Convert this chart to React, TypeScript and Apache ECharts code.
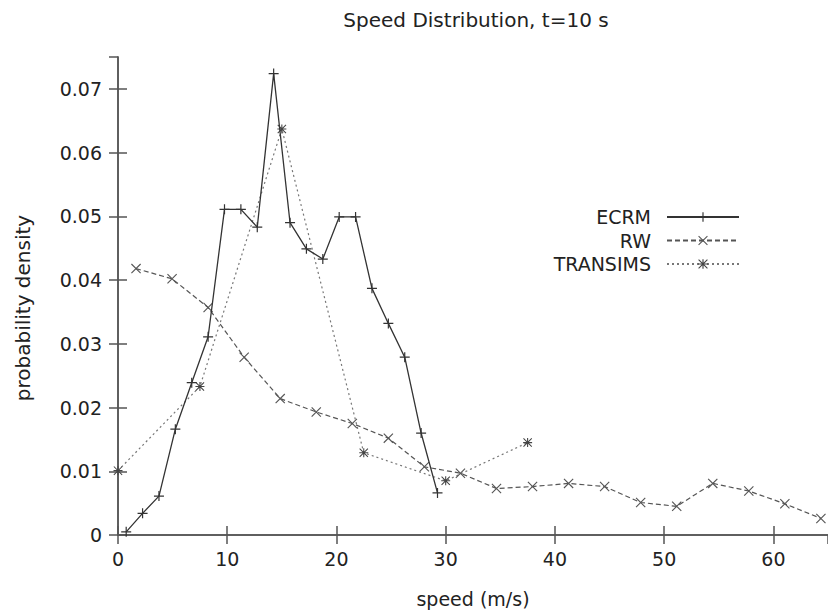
import React, { useEffect, useRef } from 'react';
import * as echarts from 'echarts';

// ---- data ----
const ecrmSpeed = [0.75, 2.25, 3.75, 5.25, 6.75, 8.25, 9.75, 11.25, 12.75, 14.25, 15.75, 17.25, 18.75, 20.25, 21.75, 23.25, 24.75, 26.25, 27.75, 29.25];
const ecrmDensity = [0.0005, 0.0034, 0.0061, 0.0166, 0.0239, 0.0311, 0.0511, 0.0511, 0.0483, 0.0724, 0.049, 0.0449, 0.0433, 0.0499, 0.0499, 0.0387, 0.0332, 0.0279, 0.016, 0.0066];

const rwSpeed = [1.65, 4.95, 8.25, 11.55, 14.85, 18.15, 21.45, 24.75, 28.05, 31.35, 34.65, 37.95, 41.25, 44.55, 47.85, 51.15, 54.45, 57.75, 61.05, 64.35];
const rwDensity = [0.0418, 0.0402, 0.0357, 0.0279, 0.0214, 0.0193, 0.0175, 0.0152, 0.0107, 0.0097, 0.0073, 0.0076, 0.0081, 0.0076, 0.0051, 0.0045, 0.0081, 0.0069, 0.0049, 0.0026];

const transimsSpeed = [0, 7.5, 15, 22.5, 30, 37.5];
const transimsDensity = [0.0101, 0.0233, 0.0637, 0.0129, 0.0085, 0.0145];

const xTickLabels = ['0', '10', '20', '30', '40', '50', '60'];
const yTickLabels = ['0', '0.01', '0.02', '0.03', '0.04', '0.05', '0.06', '0.07'];

const titleText = 'Speed Distribution, t=10 s';
const xAxisTitle = 'speed (m/s)';
const yAxisTitle = 'probability density';
const seriesNames = ['ECRM', 'RW', 'TRANSIMS'];

// ---- marker shapes ----
const PLUS_D = 'M0,4.4H10V5.6H0Z M4.4,0H5.6V10H4.4Z';
const CROSS_D = 'M0.8,0L10,9.2L9.2,10L0,0.8Z M9.2,0L10,0.8L0.8,10L0,9.2Z';
const PLUS = 'path://' + PLUS_D;
const CROSS = 'path://' + CROSS_D;
const STAR = 'path://' + PLUS_D + ' ' + CROSS_D;

const FONT = 'DejaVu Sans';
const TEXT = '#222';
const AXIS = '#555';

const pairs = (xs: number[], ys: number[]) => xs.map((x, i) => [x, ys[i]]);

export default function App() {
  const ref = useRef<HTMLDivElement>(null);
  useEffect(() => {
    if (!ref.current) return;
    const chart = echarts.init(ref.current, undefined, { renderer: 'svg' });
    const axisCommon = {
      axisLine: { show: true, lineStyle: { color: AXIS, width: 1.5 } },
      axisTick: { show: true, inside: true, length: 9, lineStyle: { color: AXIS, width: 1.5 } },
      splitLine: { show: false },
    };
    chart.setOption({
      animation: false,
      textStyle: { fontFamily: FONT },
      title: {
        text: titleText,
        left: 471,
        top: 5,
        textAlign: 'center',
        textStyle: { fontFamily: FONT, fontSize: 20, fontWeight: 'normal', color: TEXT },
      },
      legend: {
        orient: 'vertical',
        align: 'right',
        right: 88,
        top: 207,
        padding: 0,
        itemWidth: 72,
        itemHeight: 12,
        itemGap: 3.5,
        selectedMode: false,
        data: seriesNames,
        textStyle: { fontFamily: FONT, fontSize: 19, color: TEXT, lineHeight: 20, padding: [0, 11, 0, 0] },
      },
      grid: { left: 118, top: 57, right: -5, height: 478 },
      xAxis: [
        {
          type: 'value',
          min: 0,
          max: 65,
          interval: 10,
          name: xAxisTitle,
          nameLocation: 'middle',
          nameGap: 54,
          nameTextStyle: { fontFamily: FONT, fontSize: 19, color: TEXT },
          axisLabel: {
            margin: 14,
            fontFamily: FONT,
            fontSize: 19,
            color: TEXT,
            showMaxLabel: false,
            formatter: (v: number) => xTickLabels[Math.round(v / 10)] ?? '',
          },
          ...axisCommon,
        },
        {
          type: 'value',
          position: 'top',
          min: 0,
          max: 65,
          interval: 10,
          axisLabel: { show: false },
          ...axisCommon,
        },
      ],
      yAxis: [
        {
          type: 'value',
          min: 0,
          max: 0.075,
          interval: 0.01,
          name: yAxisTitle,
          nameLocation: 'middle',
          nameGap: 85,
          nameTextStyle: { fontFamily: FONT, fontSize: 20, color: TEXT, padding: [0, 24, 0, 0] },
          axisLabel: {
            margin: 16,
            fontFamily: FONT,
            fontSize: 19,
            color: TEXT,
            showMaxLabel: false,
            formatter: (v: number) => yTickLabels[Math.round(v / 0.01)] ?? '',
          },
          ...axisCommon,
        },
        {
          type: 'value',
          position: 'right',
          min: 0,
          max: 0.075,
          interval: 0.01,
          axisLabel: { show: false },
          ...axisCommon,
        },
      ],
      series: [
        {
          name: 'ECRM',
          type: 'line',
          xAxisIndex: 0,
          yAxisIndex: 0,
          data: pairs(ecrmSpeed, ecrmDensity),
          symbol: PLUS,
          symbolSize: 10,
          showAllSymbol: true,
          itemStyle: { color: '#333', borderWidth: 0 },
          lineStyle: { color: '#333', width: 1.3, type: 'solid' },
          emphasis: { disabled: true },
          z: 4,
        },
        {
          name: 'RW',
          type: 'line',
          xAxisIndex: 0,
          yAxisIndex: 0,
          data: pairs(rwSpeed, rwDensity),
          symbol: CROSS,
          symbolSize: 10,
          showAllSymbol: true,
          itemStyle: { color: '#555', borderWidth: 0 },
          lineStyle: { color: '#555', width: 1.2, type: [5, 3] },
          emphasis: { disabled: true },
          z: 3,
        },
        {
          name: 'TRANSIMS',
          type: 'line',
          xAxisIndex: 0,
          yAxisIndex: 0,
          data: pairs(transimsSpeed, transimsDensity),
          symbol: STAR,
          symbolSize: 9,
          showAllSymbol: true,
          itemStyle: { color: '#444', borderWidth: 0 },
          lineStyle: { color: '#777', width: 1.2, type: [2, 3] },
          emphasis: { disabled: true },
          z: 2,
        },
      ],
    });
    return () => chart.dispose();
  }, []);
  return (
    <div
      ref={ref}
      style={{ position: 'fixed', left: 0, top: 0, width: 828, height: 613, background: '#fff' }}
    />
  );
}
